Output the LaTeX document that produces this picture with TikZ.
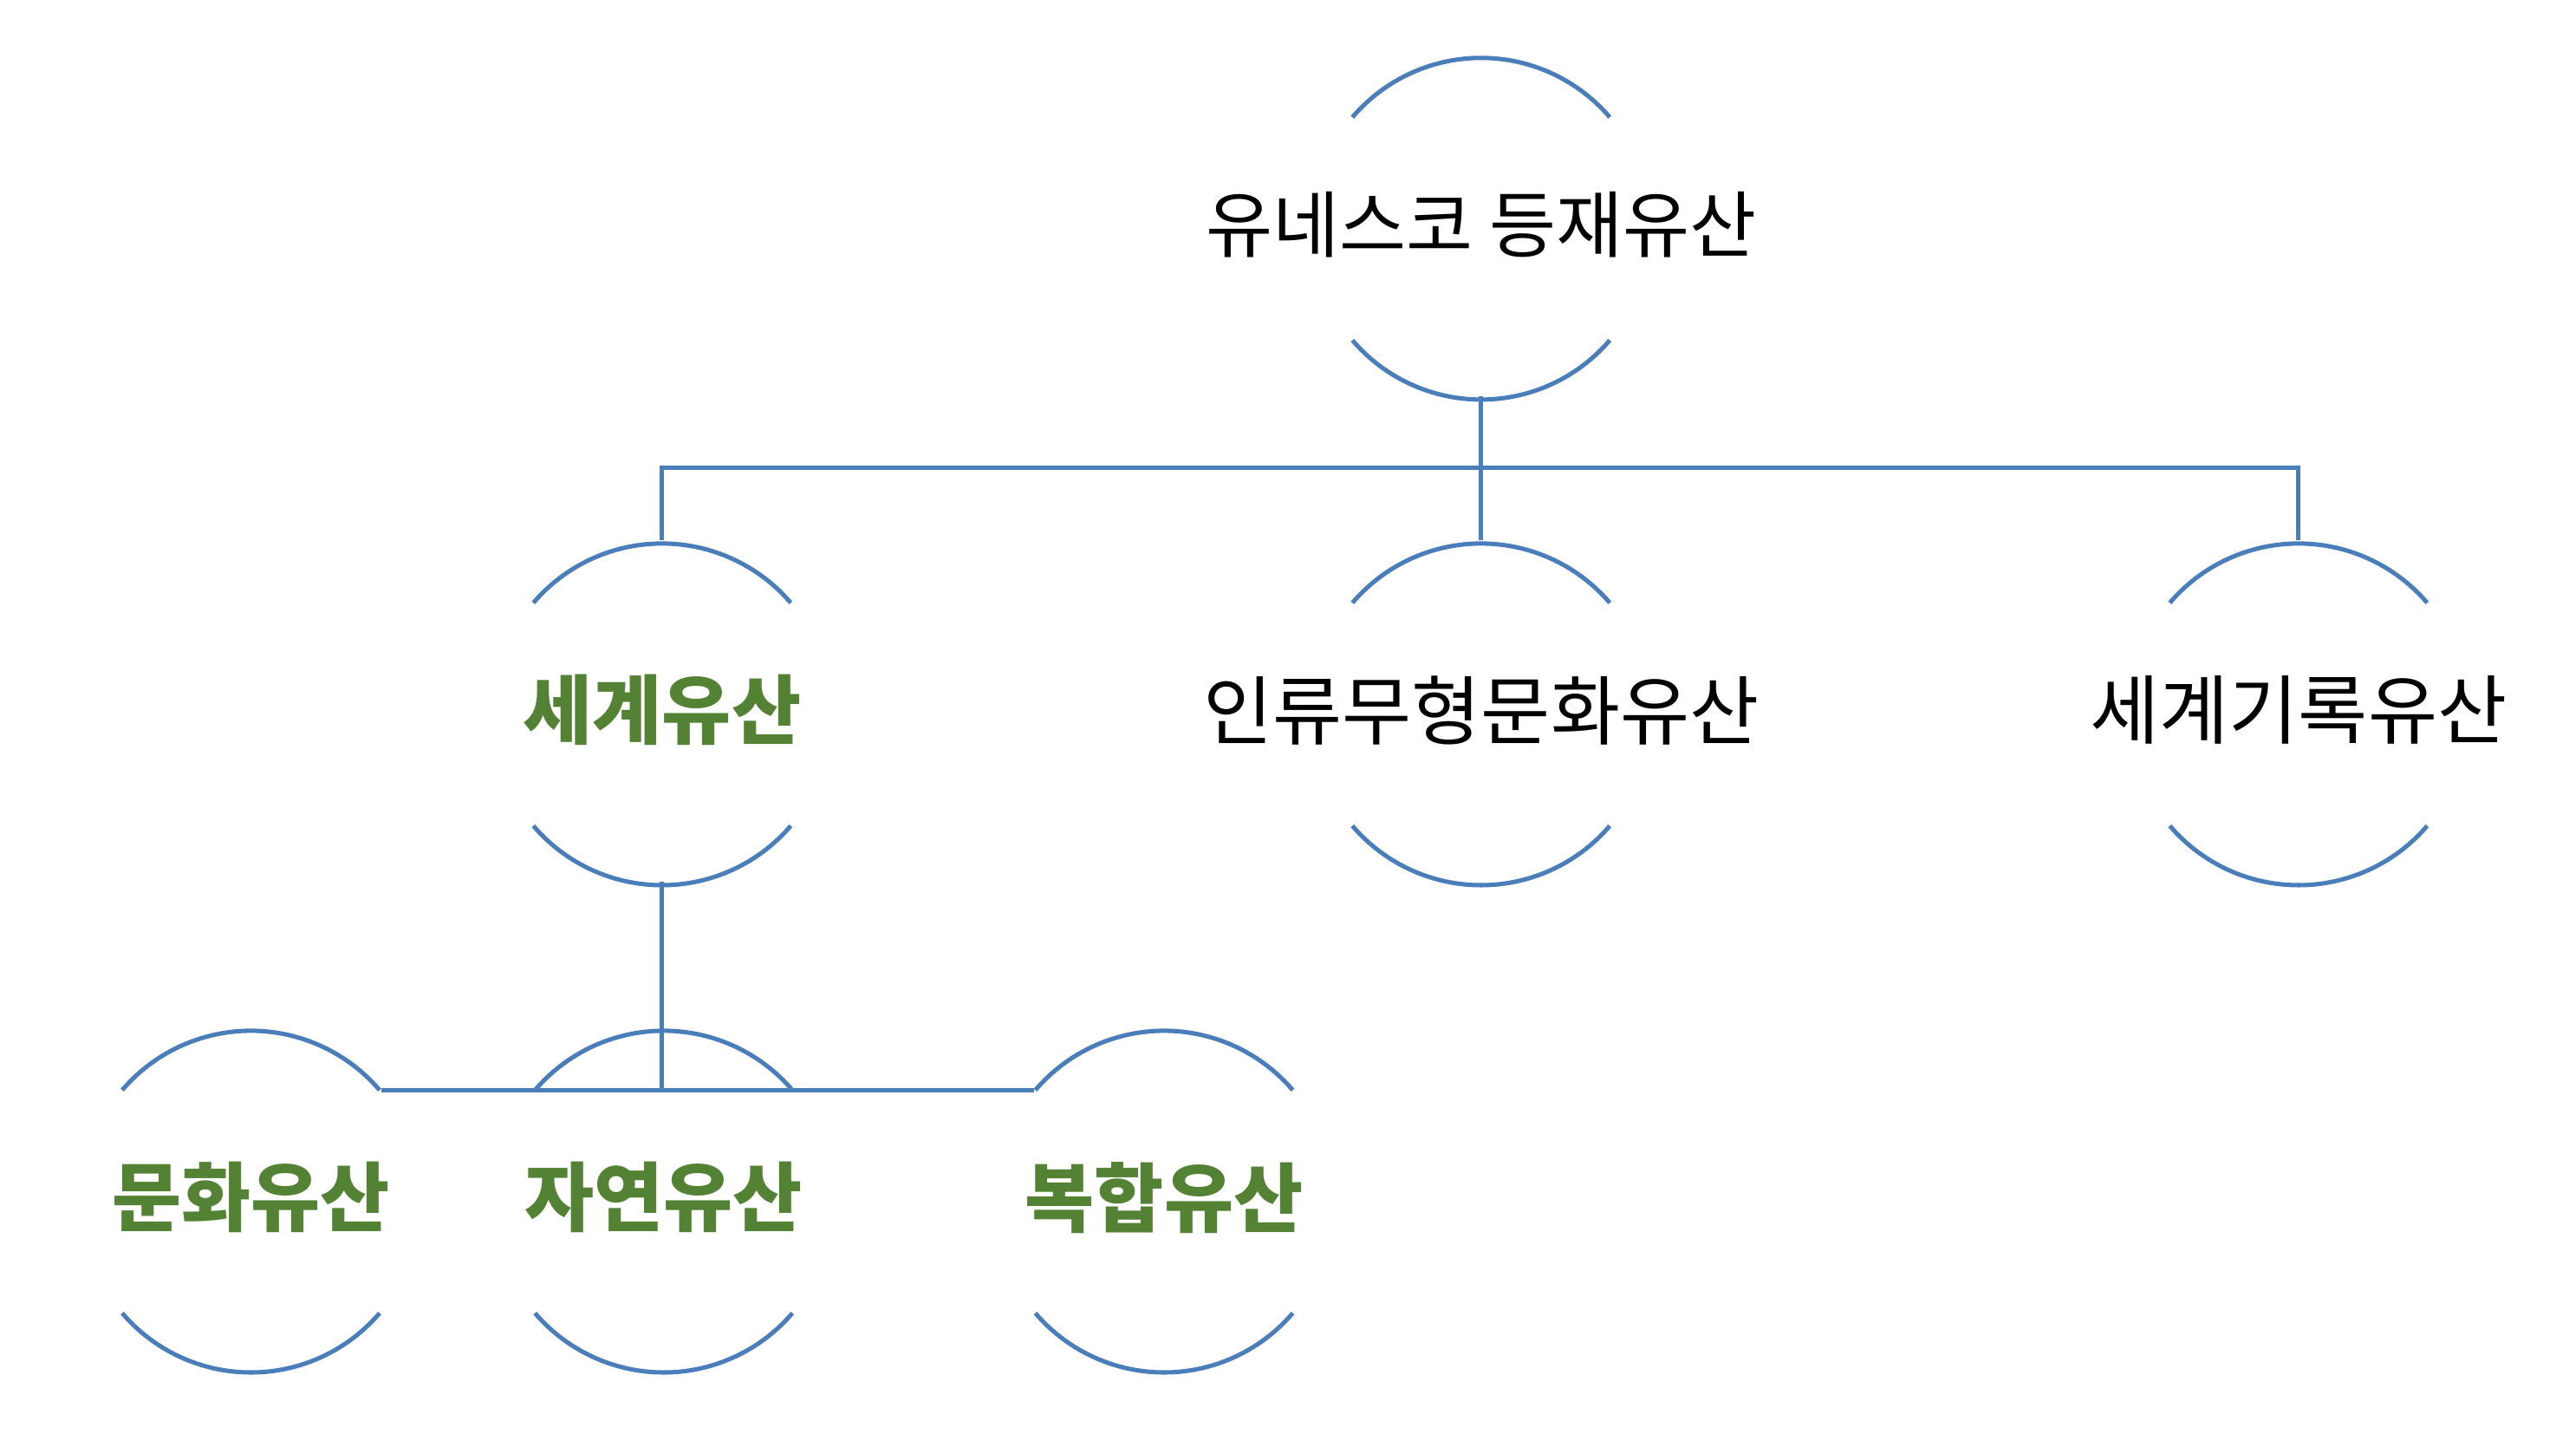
\documentclass[tikz,border=0pt]{standalone}
\usepackage{fontspec}
\setmainfont{Noto Sans CJK KR}
\definecolor{lineblue}{HTML}{4A7EBB}
\definecolor{hgreen}{HTML}{548235}
\begin{document}
\begin{tikzpicture}[x=0.01cm,y=0.01cm,
  con/.style={draw=lineblue,line width=0.75pt},
  lbl/.style={font=\fontsize{13}{15}\selectfont,inner sep=0pt},
  glbl/.style={lbl,font=\fontsize{13}{15}\selectfont\bfseries,text=hgreen}]
\useasboundingbox (0,0) rectangle (1560,876);
% y-up: Y = 876 - y
\newcommand{\hnode}[4]{% name, cx, ytext(down), style/text
  \coordinate (#1t) at (#2,{876-(#3-103)});
  \coordinate (#1b) at (#2,{876-(#3+104)});
  \draw[con] ({#2-78},{876-(#3-65)}) arc[start angle=139.5,end angle=40.5,radius=102.5];
  \draw[con] ({#2-78},{876-(#3+70)}) arc[start angle=220.5,end angle=319.5,radius=102.5];
  \node[#4] (#1) at (#2,{876-#3}) {};}
\hnode{root}{897}{136}{lbl}
\node[lbl,font=\fontsize{12.5}{15}\selectfont] at (root) {유네스코 등재유산};
\hnode{a}{401}{430}{lbl}
\node[glbl] at (a) {세계유산};
\hnode{b}{897}{430}{lbl}
\node[lbl] at (b) {인류무형문화유산};
\hnode{c}{1392}{430}{lbl}
\node[lbl] at (c) {세계기록유산};
\hnode{d}{152}{725}{lbl}
\node[glbl] at (d) {문화유산};
\hnode{e}{402}{725}{lbl}
\node[glbl] at (e) {자연유산};
\hnode{f}{705}{725}{lbl}
\node[glbl] at (f) {복합유산};
% connectors
\coordinate (j1) at (897,{876-283});
\draw[con] (rootb) -- (j1);
\draw[con] (at) |- (j1) -| (ct);
\draw[con] (j1) -- (bt);
\coordinate (j2) at (401,{876-660});
\draw[con] (ab) -- (j2);
\draw[con] (231,{876-660}) -- (626,{876-660});
\end{tikzpicture}
\end{document}
